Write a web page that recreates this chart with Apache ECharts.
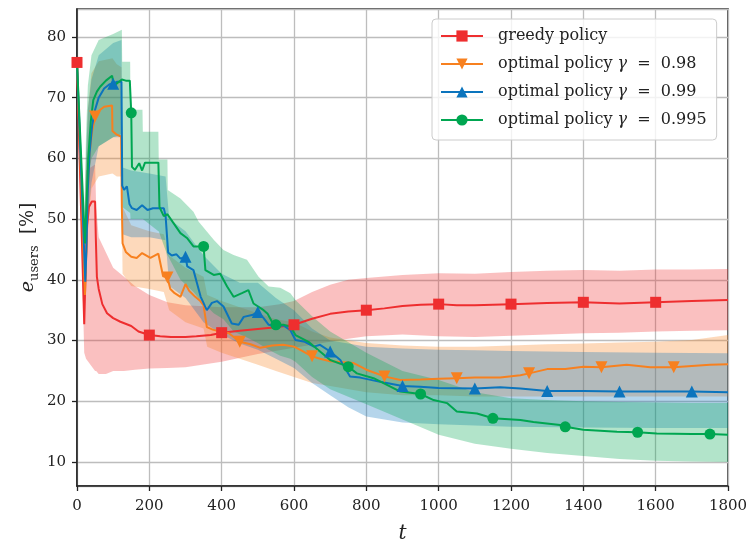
<!DOCTYPE html>
<html><head><meta charset="utf-8">
<script src="https://cdn.jsdelivr.net/npm/echarts@6/dist/echarts.min.js"></script>
<style>html,body{margin:0;padding:0;background:#fff}#c{width:752px;height:542px}</style>
</head><body><div id="c"></div>
<script>
// ---- axis ticks ----
const xTicks = [0, 200, 400, 600, 800, 1000, 1200, 1400, 1600, 1800];
const yTicks = [10, 20, 30, 40, 50, 60, 70, 80];

// ---- series names ----
const seriesNames = ['greedy policy', 'optimal policy γ = 0.98', 'optimal policy γ = 0.99', 'optimal policy γ = 0.995'];

// ---- marker positions ----
const greedyMarkT = [0, 200, 400, 600, 800, 1000, 1200, 1400, 1600];
const opt98MarkT = [50, 250, 450, 650, 850, 1050, 1250, 1450, 1650];
const opt99MarkT = [100, 300, 500, 700, 900, 1100, 1300, 1500, 1700];
const opt995MarkT = [150, 350, 550, 750, 950, 1150, 1350, 1550, 1750];

// ---- greedy policy (mean) ----
const greedyT = [0,20,24,28,33,41,50,52,55,60,70,83,100,120,150,170,185,200,230,260,300,330,370,400,450,500,550,600,650,700,750,800,850,900,950,1000,1050,1100,1150,1200,1300,1400,1500,1600,1700,1800];
const greedyV = [75.8,32.7,42,49,52,52.9,52.9,47,40.5,38.5,36,34.5,33.7,33.1,32.4,31.5,31.2,30.9,30.7,30.6,30.6,30.7,30.9,31.3,31.6,31.9,32.2,32.6,33.6,34.4,34.8,35.0,35.3,35.7,35.9,36.0,35.8,35.8,35.9,36.0,36.2,36.3,36.1,36.3,36.5,36.7];
// greedy band
const greedyBandT = [0,20,25,50,53,60,80,100,130,160,200,250,300,400,500,560,600,650,700,750,800,900,1000,1100,1200,1300,1400,1500,1600,1700,1800];
const greedyBandHi = [75.8,40,58,59,52,47,44.5,42,40.5,39,37.5,36.3,35.8,35.5,35.5,36.0,36.5,38,39.2,40,40.3,40.8,41.1,41.0,41.3,41.5,41.6,41.5,41.7,41.7,41.8];
const greedyBandLo = [75.8,28,27,25,25,24.5,24.5,25,25,25.2,25.4,25.5,25.6,26.5,27.8,28.4,28.8,29.3,29.8,30.3,30.7,31,30.7,30.6,30.8,31,31.2,31.3,31.5,31.6,31.7];

// ---- optimal policy gamma = 0.98 ----
const opt98T = [0,22,26,30,35,42,50,60,75,97,98,110,122,124,126,135,150,165,180,203,225,238,250,258,270,286,300,310,327,341,350,359,375,396,420,450,480,507,540,570,600,620,650,672,700,765,800,850,894,950,1000,1050,1100,1170,1226,1250,1300,1350,1400,1450,1520,1585,1650,1700,1750,1800];
const opt98V = [75.8,37.5,45,55,61,64.5,66.9,67.8,68.5,68.7,64.5,63.9,63.6,52,46,44.6,43.8,43.6,44.4,43.6,44.3,40.6,40.4,38.5,37.8,37.2,39.3,38.2,37.2,36.5,35.8,32.2,31.8,31.5,31.2,29.8,29.4,28.8,29.2,29.3,29.0,28.4,27.4,27.0,26.6,26.3,25.2,24.1,23.5,23.6,23.7,23.8,23.9,23.9,24.3,24.6,25.3,25.3,25.7,25.6,26.0,25.6,25.6,25.8,26.0,26.1];
const opt98BandT = [0,20,25,30,40,60,98,110,123,126,150,200,240,255,300,350,360,400,450,500,550,600,650,700,800,900,1000,1100,1200,1300,1400,1500,1600,1700,1800];
const opt98BandLo = [75.8,36,40,48,55,57,57.5,57,57,41,39,38.5,38,35,33,32,29,28,27,26,25,24,23,22.5,21.5,21,21,20.8,20.8,20.8,20.8,20.8,20.8,20.8,20.8];
const opt98BandHi = [75.8,45,60,68,74,76,76.5,75.5,75,52,49,48,47.5,44,42,40.5,37.5,36.5,35.5,34.5,33.5,33,31.5,30.5,29.6,29.2,29.0,29.0,29.2,29.4,29.5,29.7,29.8,30.1,30.9];

// ---- optimal policy gamma = 0.99 ----
const opt99T = [0,23,26,30,35,42,50,60,75,90,100,110,123,125,130,138,145,152,165,180,195,210,240,245,252,262,275,286,300,305,322,332,342,359,373,387,405,428,447,461,484,500,516,530,553,571,590,604,630,655,672,700,728,755,783,838,900,949,1000,1100,1170,1226,1300,1400,1500,1600,1700,1800];
const opt99V = [75.8,39.7,45,55,61,65.5,68,70,71.5,72.2,72.3,72.6,72.6,55.5,54.8,55.4,52.5,51.8,51.5,52.3,51.5,51.8,51.8,50.5,44.5,44,44.2,43.5,43.8,42.2,41.6,39.4,37.2,35.0,36.2,36.5,35.6,32.8,32.6,33.9,34.2,34.7,33.7,32.6,32.3,32.5,31.7,30.1,29.8,29.0,29.3,28.2,26.8,24.1,23.9,23.2,22.5,22.4,22.2,22.1,22.3,22.1,21.7,21.7,21.6,21.6,21.6,21.5];
const opt99BandT = [0,20,25,30,40,60,100,123,126,150,200,245,255,300,350,400,450,500,550,600,650,700,750,800,900,1000,1100,1200,1400,1600,1800];
const opt99BandLo = [75.8,36,42,50,56,62,63.5,63.5,47.5,47,47,46.5,39,37,33,31,29.5,28.5,27,25.5,23,21,19,17.5,16.5,16.2,16,15.8,15.7,15.6,15.6];
const opt99BandHi = [75.8,44,60,68,73,77,79,79.5,58.5,58,57.5,57,50,48,44,41,39.5,39.5,37,35,32,30,29.5,29,28.7,28.5,28.4,28.3,28.1,28,27.9];

// ---- optimal policy gamma = 0.995 ----
const opt995T = [0,22,26,31,38,45,55,64,80,97,100,105,124,135,146,150,152,160,172,180,188,225,228,240,250,265,286,304,322,350,355,378,396,415,433,456,474,488,516,527,539,550,571,590,604,640,672,700,750,774,820,857,894,950,986,1023,1050,1106,1150,1226,1262,1336,1350,1400,1493,1550,1603,1700,1750,1800];
const opt995V = [75.8,46,52,60,66,69.6,71,71.8,72.8,73.6,72.6,72.1,73,72.8,72.8,67.5,58.6,58.1,59.2,58.0,59.3,59.3,52,50.5,50.8,49.5,47.7,46.9,45.5,45.5,41.6,40.8,41.0,38.9,37.2,37.8,38.3,36.1,35.0,34.4,33.1,32.6,32.6,32.3,30.9,29.8,28.2,26.8,25.7,24.6,23.8,22.7,21.6,21.2,20.2,19.7,18.3,18.0,17.2,16.9,16.6,16.1,15.8,15.3,15.0,14.9,14.7,14.6,14.6,14.5];
const opt995BandT = [0,20,25,30,40,60,100,124,125,147,148,181,182,225,226,250,251,286,322,336,378,405,433,470,502,530,562,590,604,650,700,800,900,1000,1100,1200,1300,1400,1500,1600,1700,1800];
const opt995BandHi = [75.8,50,64,72,77,79.5,80.5,81.2,75.9,75.9,68,68,64.4,64.4,59.8,59.8,54.8,53.4,51.2,49.6,46.6,44.9,44.1,43.3,40.5,38.9,38.7,37.8,36.7,34,31.5,28,25,23.5,21.5,20.5,20.2,20,19.9,19.8,19.7,19.7];
const opt995BandLo = [75.8,42,50,56,60,62,63.5,64,52,51,50,50,50,48,48,44,44,40,38,37,34.5,33.5,31.5,30.5,29.5,28.5,27.5,27,26.5,24,22,19.5,17,14.5,13,12.2,11.5,11,10.5,10.2,10.1,10];

// ---- styling ----
const FONT = 'DejaVu Serif';
const colRed = '#ee2e2f', colOrange = '#f7801f', colBlue = '#0b74bd', colGreen = '#00a651';

function pairs(t, v) { return t.map((x, i) => [x, v[i]]); }

const series = [];
function addBand(key, t, lo, hi, color) {
  const data = t.map((x, i) => [x, lo[i], hi[i]]);
  series.push({
    name: key, type: 'custom', data: data, silent: true, z: 1,
    encode: { x: 0, y: [1, 2] },
    renderItem: function (params, api) {
      if (params.dataIndex !== 0) return null;
      const pts = [];
      for (let i = 0; i < data.length; i++) pts.push(api.coord([data[i][0], data[i][2]]));
      for (let i = data.length - 1; i >= 0; i--) pts.push(api.coord([data[i][0], data[i][1]]));
      return { type: 'polygon', shape: { points: pts }, style: { fill: color, opacity: 0.3 } };
    }
  });
}
function addLine(name, t, v, marks, color, symbol, size) {
  const set = new Set(marks);
  series.push({
    name: name, type: 'line', data: pairs(t, v), symbol: symbol,
    symbolSize: (val) => set.has(val[0]) ? size : 0,
    showSymbol: true, showAllSymbol: true,
    lineStyle: { color: color, width: 2 }, itemStyle: { color: color },
    z: 3, clip: true, emphasis: { disabled: true }
  });
}

addBand('b0', greedyBandT, greedyBandLo, greedyBandHi, colRed);
addBand('b1', opt98BandT, opt98BandLo, opt98BandHi, colOrange);
addBand('b2', opt99BandT, opt99BandLo, opt99BandHi, colBlue);
addBand('b3', opt995BandT, opt995BandLo, opt995BandHi, colGreen);

addLine(seriesNames[0], greedyT, greedyV, greedyMarkT, colRed, 'rect', 11);
addLine(seriesNames[1], opt98T, opt98V, opt98MarkT, colOrange, 'path://M0,0L10,0L5,9Z', 12);
addLine(seriesNames[2], opt99T, opt99V, opt99MarkT, colBlue, 'triangle', 12);
addLine(seriesNames[3], opt995T, opt995V, opt995MarkT, colGreen, 'circle', 11);

const chart = echarts.init(document.getElementById('c'), null, { renderer: 'canvas' });
chart.setOption({
  animation: false,
  backgroundColor: '#fff',
  grid: { left: 77, right: 24, top: 9, bottom: 56, containLabel: false, outerBoundsMode: 'none',
    show: true, borderColor: '#222', borderWidth: 1.5, backgroundColor: 'transparent' },
  legend: {
    data: seriesNames,
    left: 432, top: 19, orient: 'vertical',
    itemWidth: 42, itemHeight: 14, itemGap: 12,
    padding: [9, 10, 12, 8],
    backgroundColor: 'rgba(255,255,255,0.8)', borderColor: '#cccccc', borderWidth: 1, borderRadius: 4,
    textStyle: { fontFamily: FONT, fontSize: 16, color: '#222', padding: [0, 0, 0, 10],
      rich: { g: { fontFamily: FONT, fontStyle: 'italic', fontSize: 16, color: '#222' } } },
    formatter: (name) => name.replace('γ', '{g|γ}').replace(' = ', '  =  '),
    selectedMode: false
  },
  xAxis: {
    type: 'value', min: 0, max: 1800, interval: 200,
    name: 't', nameLocation: 'middle', nameGap: 38, nameMoveOverlap: false,
    nameTextStyle: { fontFamily: FONT, fontStyle: 'italic', fontSize: 20, color: '#222' },
    axisLine: { show: true, onZero: false, lineStyle: { color: '#222', width: 1.5 } },
    axisTick: { show: true, length: 5, lineStyle: { color: '#222', width: 1.3 } },
    axisLabel: { fontFamily: FONT, fontSize: 15, color: '#222', margin: 13,
      formatter: (v) => xTicks.includes(v) ? String(v) : '' },
    splitLine: { show: true, lineStyle: { color: '#bdbdbd', width: 1.3 } }
  },
  yAxis: {
    type: 'value', min: 6.05, max: 84.6, splitNumber: 8, minInterval: 10, maxInterval: 10,
    name: '{e|e}{s|users}{n|  [%]}', nameLocation: 'middle', nameGap: 36, nameRotate: 90, nameMoveOverlap: false,
    nameTextStyle: { fontFamily: FONT, fontSize: 18, color: '#222',
      rich: {
        e: { fontFamily: FONT, fontStyle: 'italic', fontSize: 19, color: '#222', lineHeight: 26, verticalAlign: 'middle' },
        s: { fontFamily: FONT, fontSize: 13, color: '#222', lineHeight: 26, verticalAlign: 'bottom' },
        n: { fontFamily: FONT, fontSize: 18, color: '#222', lineHeight: 26, verticalAlign: 'middle' }
      } },
    axisLine: { show: true, onZero: false, lineStyle: { color: '#222', width: 1.5 } },
    axisTick: { show: true, length: 5, lineStyle: { color: '#222', width: 1.3 } },
    axisLabel: { fontFamily: FONT, fontSize: 15, color: '#222', margin: 11, showMinLabel: false, showMaxLabel: false,
      formatter: (v) => yTicks.includes(v) ? String(v) : '' },
    splitLine: { show: true, lineStyle: { color: '#bdbdbd', width: 1.3 } }
  },
  series: series
});
</script>
</body></html>
